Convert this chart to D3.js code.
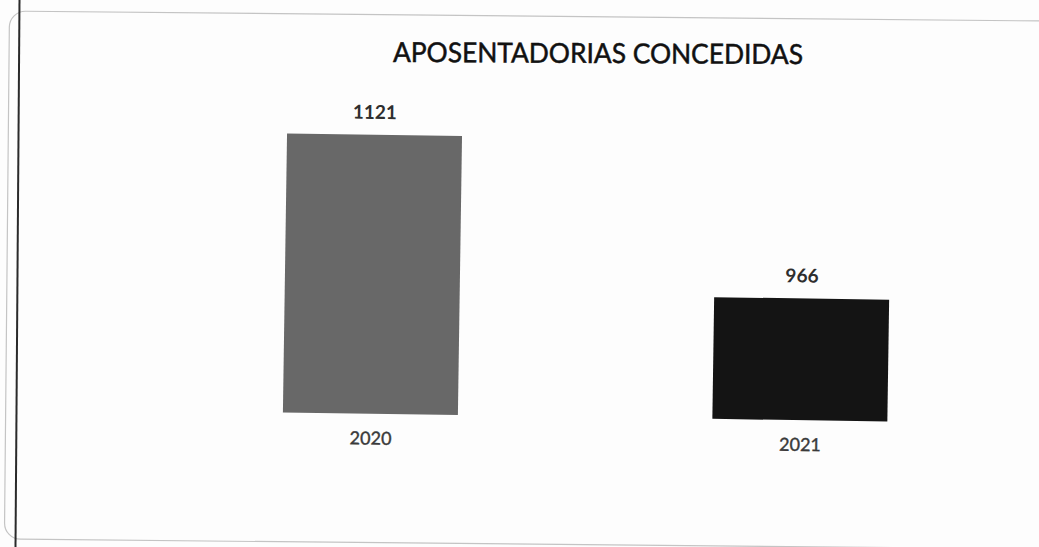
<!DOCTYPE html>
<html>
<head>
<meta charset="utf-8">
<script src="https://cdn.jsdelivr.net/npm/d3@7"></script>
<style>
  html, body { margin: 0; padding: 0; background: #fdfdfd; }
  svg { display: block; }
  text { font-family: Lato, "Open Sans", "Noto Sans", sans-serif; }
</style>
</head>
<body>
<svg id="chart" width="1039" height="547"></svg>
<script>
const title = "APOSENTADORIAS CONCEDIDAS";
const categories = ["2020", "2021"];
const values = [1121, 966];
const barColors = ["#686868", "#141414"];

const W = 1039, H = 547;
const svg = d3.select("#chart");

svg.append("rect").attr("width", W).attr("height", H).attr("fill", "#fdfdfd");

// scanned page frame (rounded border) and page edge line
svg.append("rect")
  .attr("x", 7).attr("y", 16).attr("width", 1050).attr("height", 528)
  .attr("rx", 16).attr("ry", 16)
  .attr("fill", "none").attr("stroke", "#c4c4c4").attr("stroke-width", 1.2)
  .attr("transform", "rotate(0.55,520,273)");

svg.append("line")
  .attr("x1", 19.5).attr("y1", 0).attr("x2", 15.5).attr("y2", H)
  .attr("stroke", "#2a2a2a").attr("stroke-width", 2);

// title (slightly tilted like the scan)
svg.append("text")
  .attr("x", 598).attr("y", 63)
  .attr("text-anchor", "middle")
  .attr("font-size", 27.5)
  .attr("fill", "#111").attr("stroke", "#111").attr("stroke-width", 0.5)
  .attr("textLength", 410).attr("lengthAdjust", "spacingAndGlyphs")
  .attr("transform", "rotate(0.3,598,55)")
  .text(title);

const g = svg.append("g").attr("transform", "rotate(0.85,520,273)");

const x = d3.scalePoint().domain(categories).range([372.5, 802]);
const barW = 175;
const y = d3.scaleLinear().domain([846, 1121]).range([416, 137]);

g.selectAll("rect.bar").data(values).enter().append("rect")
  .attr("class", "bar")
  .attr("x", (d, i) => x(categories[i]) - barW / 2)
  .attr("y", d => y(d))
  .attr("width", barW)
  .attr("height", d => y.range()[0] - y(d))
  .attr("fill", (d, i) => barColors[i]);

g.selectAll("text.val").data(values).enter().append("text")
  .attr("class", "val")
  .attr("x", (d, i) => x(categories[i]))
  .attr("y", d => y(d) - 16)
  .attr("text-anchor", "middle")
  .attr("font-size", 19).attr("font-weight", "bold")
  .attr("fill", "#2e2e2e")
  .text(d => d);

const xAxis = d3.axisBottom(x).tickSize(0).tickPadding(0);
const ax = g.append("g").attr("transform", "translate(0,434)").call(xAxis);
ax.select(".domain").remove();
ax.selectAll("text")
  .attr("font-size", 18).attr("fill", "#3a3a3a")
  .attr("stroke", "#3a3a3a").attr("stroke-width", 0.4)
  .attr("font-family", "Lato, 'Open Sans', sans-serif");
</script>
</body>
</html>
